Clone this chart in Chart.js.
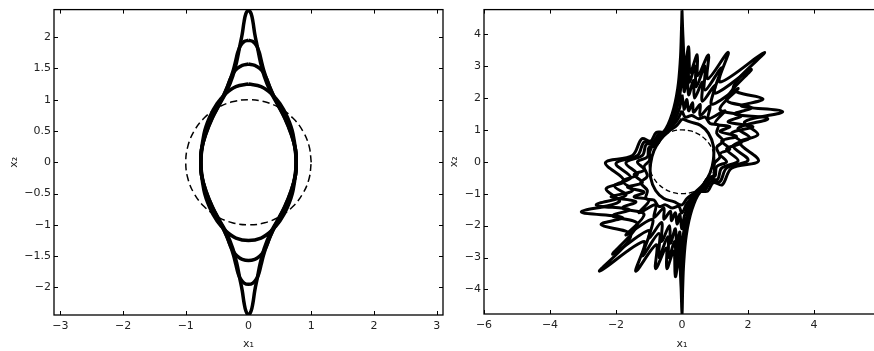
<!DOCTYPE html>
<html lang="en">
<head>
    <meta charset="UTF-8">
    <title>Level sets x1 / x2</title>
    <script src="https://cdn.jsdelivr.net/npm/chart.js"></script>
    <style>
        * {
            margin: 0;
            padding: 0;
            box-sizing: border-box;
        }
        body {
            background: #fff;
            width: 874px;
            height: 351px;
            overflow: hidden;
            position: relative;
        }
        canvas {
            position: absolute;
            top: 0;
        }
        #leftChart { left: 0; }
        #rightChart { left: 440px; }
    </style>
</head>
<body>
    <canvas id="leftChart" width="450" height="351"></canvas>
    <canvas id="rightChart" width="450" height="351"></canvas>
    <script>
        // tick labels
        const leftXTicks = [-3, -2, -1, 0, 1, 2, 3];
        const leftYTicks = [-2, -1.5, -1, -0.5, 0, 0.5, 1, 1.5, 2];
        const rightXTicks = [-6, -4, -2, 0, 2, 4];
        const rightYTicks = [-4, -3, -2, -1, 0, 1, 2, 3, 4];

        // unit circle (dashed), both panels
        const unitCircle = [
            [1, 0], [0.966, 0.259], [0.866, 0.5], [0.707, 0.707], [0.5, 0.866], [0.259, 0.966],
            [0, 1], [-0.259, 0.966], [-0.5, 0.866], [-0.707, 0.707], [-0.866, 0.5], [-0.966, 0.259],
            [-1, 0], [-0.966, -0.259], [-0.866, -0.5], [-0.707, -0.707], [-0.5, -0.866], [-0.259, -0.966],
            [0, -1], [0.259, -0.966], [0.5, -0.866], [0.707, -0.707], [0.866, -0.5], [0.966, -0.259], [1, 0]
        ];

        // left panel, four solid curves (peaks 1.25, 1.57, 1.95, 2.44)
        const leftCurve1 = [
            [0, 1.25], [0.2, 1.21], [0.36, 1.1], [0.5, 0.94], [0.62, 0.72], [0.71, 0.45], [0.76, 0],
            [0.71, -0.45], [0.62, -0.72], [0.5, -0.94], [0.36, -1.1], [0.2, -1.21], [0, -1.25],
            [-0.2, -1.21], [-0.36, -1.1], [-0.5, -0.94], [-0.62, -0.72], [-0.71, -0.45], [-0.76, 0],
            [-0.71, 0.45], [-0.62, 0.72], [-0.5, 0.94], [-0.36, 1.1], [-0.2, 1.21], [0, 1.25]
        ];
        const leftCurve2 = [
            [0, 1.57], [0.1, 1.55], [0.18, 1.5], [0.24, 1.43], [0.29, 1.33], [0.34, 1.2], [0.44, 0.98],
            [0.57, 0.73], [0.68, 0.46], [0.75, 0.2], [0.76, 0], [0.75, -0.2], [0.68, -0.46], [0.57, -0.73],
            [0.44, -0.98], [0.34, -1.2], [0.29, -1.33], [0.24, -1.43], [0.18, -1.5], [0.1, -1.55], [0, -1.57],
            [-0.1, -1.55], [-0.18, -1.5], [-0.24, -1.43], [-0.29, -1.33], [-0.34, -1.2], [-0.44, -0.98],
            [-0.57, -0.73], [-0.68, -0.46], [-0.75, -0.2], [-0.76, 0], [-0.75, 0.2], [-0.68, 0.46],
            [-0.57, 0.73], [-0.44, 0.98], [-0.34, 1.2], [-0.29, 1.33], [-0.24, 1.43], [-0.18, 1.5],
            [-0.1, 1.55], [0, 1.57]
        ];
        const leftCurve3 = [
            [0, 1.95], [0.07, 1.93], [0.13, 1.86], [0.17, 1.76], [0.2, 1.64], [0.24, 1.48], [0.3, 1.3],
            [0.38, 1.1], [0.5, 0.88], [0.62, 0.64], [0.71, 0.38], [0.76, 0], [0.71, -0.38], [0.62, -0.64],
            [0.5, -0.88], [0.38, -1.1], [0.3, -1.3], [0.24, -1.48], [0.2, -1.64], [0.17, -1.76],
            [0.13, -1.86], [0.07, -1.93], [0, -1.95], [-0.07, -1.93], [-0.13, -1.86], [-0.17, -1.76],
            [-0.2, -1.64], [-0.24, -1.48], [-0.3, -1.3], [-0.38, -1.1], [-0.5, -0.88], [-0.62, -0.64],
            [-0.71, -0.38], [-0.76, 0], [-0.71, 0.38], [-0.62, 0.64], [-0.5, 0.88], [-0.38, 1.1],
            [-0.3, 1.3], [-0.24, 1.48], [-0.2, 1.64], [-0.17, 1.76], [-0.13, 1.86], [-0.07, 1.93], [0, 1.95]
        ];
        const leftCurve4 = [
            [0, 2.44], [0.04, 2.38], [0.07, 2.25], [0.1, 2.05], [0.14, 1.85], [0.19, 1.6], [0.25, 1.38],
            [0.34, 1.15], [0.46, 0.93], [0.58, 0.7], [0.68, 0.45], [0.75, 0.2], [0.76, 0], [0.75, -0.2],
            [0.68, -0.45], [0.58, -0.7], [0.46, -0.93], [0.34, -1.15], [0.25, -1.38], [0.19, -1.6],
            [0.14, -1.85], [0.1, -2.05], [0.07, -2.25], [0.04, -2.38], [0, -2.44], [-0.04, -2.38],
            [-0.07, -2.25], [-0.1, -2.05], [-0.14, -1.85], [-0.19, -1.6], [-0.25, -1.38], [-0.34, -1.15],
            [-0.46, -0.93], [-0.58, -0.7], [-0.68, -0.45], [-0.75, -0.2], [-0.76, 0], [-0.75, 0.2],
            [-0.68, 0.45], [-0.58, 0.7], [-0.46, 0.93], [-0.34, 1.15], [-0.25, 1.38], [-0.19, 1.6],
            [-0.14, 1.85], [-0.1, 2.05], [-0.07, 2.25], [-0.04, 2.38], [0, 2.44]
        ];

        // right panel, six solid curves from inner to outer
        const rightCurve1 = [
            [0, 1.35], [0.25, 1.25], [0.55, 1.15], [0.8, 0.9], [0.95, 0.5], [0.95, 0.05], [0.85, -0.35],
            [0.65, -0.7], [0.4, -0.95], [0.15, -1.15], [0, -1.35], [-0.25, -1.25], [-0.55, -1.15],
            [-0.8, -0.9], [-0.95, -0.5], [-0.95, -0.05], [-0.85, 0.35], [-0.65, 0.7], [-0.4, 0.95],
            [-0.15, 1.15], [0, 1.35]
        ];
        const rightCurve2 = [
            [0, 1.6], [0.1, 1.4], [0.3, 1.45], [0.5, 1.35], [0.7, 1.4], [0.85, 1.2], [1.1, 1.15],
            [1.05, 0.9], [1.25, 0.65], [1.05, 0.45], [1.15, 0.15], [0.98, -0.05], [0.98, -0.4],
            [0.75, -0.55], [0.6, -0.82], [0.4, -1.0], [0.15, -1.3], [0, -1.6],
            [-0.1, -1.4], [-0.3, -1.45], [-0.5, -1.35], [-0.7, -1.4], [-0.85, -1.2], [-1.1, -1.15],
            [-1.05, -0.9], [-1.25, -0.65], [-1.05, -0.45], [-1.15, -0.15], [-0.98, 0.05], [-0.98, 0.4],
            [-0.75, 0.55], [-0.6, 0.82], [-0.4, 1.0], [-0.15, 1.3], [0, 1.6]
        ];
        const rightCurve3 = [
            [0, 2.1], [0.05, 1.75], [0.07, 1.65], [0.15, 1.95], [0.2, 1.6], [0.32, 1.85], [0.35, 1.55],
            [0.55, 1.8], [0.55, 1.45], [0.85, 1.75], [0.8, 1.35], [1.3, 1.6], [1.0, 1.2], [1.45, 1.1],
            [1.15, 0.95], [1.65, 0.8], [1.2, 0.65], [1.45, 0.4], [1.15, 0.25], [1.35, 0.0], [1.05, -0.15],
            [1.0, -0.45], [0.8, -0.5], [0.6, -0.8], [0.4, -1.0], [0.2, -1.35], [0.07, -1.7], [0, -2.1],
            [-0.05, -1.75], [-0.07, -1.65], [-0.15, -1.95], [-0.2, -1.6], [-0.32, -1.85], [-0.35, -1.55],
            [-0.55, -1.8], [-0.55, -1.45], [-0.85, -1.75], [-0.8, -1.35], [-1.3, -1.6], [-1.0, -1.2],
            [-1.45, -1.1], [-1.15, -0.95], [-1.65, -0.8], [-1.2, -0.65], [-1.45, -0.4], [-1.15, -0.25],
            [-1.35, 0.0], [-1.05, 0.15], [-1.0, 0.45], [-0.8, 0.5], [-0.6, 0.8], [-0.4, 1.0],
            [-0.2, 1.35], [-0.07, 1.7], [0, 2.1]
        ];
        const rightCurve4 = [
            [0, 2.9], [0.05, 2.4], [0.07, 2.2], [0.16, 2.7], [0.2, 2.1], [0.35, 2.55], [0.38, 2.0],
            [0.62, 2.5], [0.62, 1.9], [1.0, 2.4], [0.9, 1.8], [1.7, 2.3], [1.15, 1.65], [1.8, 1.45],
            [1.4, 1.25], [2.15, 1.1], [1.5, 0.9], [1.8, 0.6], [1.35, 0.4], [1.7, 0.03], [1.2, -0.2],
            [1.08, -0.55], [0.85, -0.55], [0.65, -0.85], [0.45, -0.98], [0.24, -1.4], [0.1, -1.9],
            [0.03, -2.4], [0, -2.9],
            [-0.05, -2.4], [-0.07, -2.2], [-0.16, -2.7], [-0.2, -2.1], [-0.35, -2.55], [-0.38, -2.0],
            [-0.62, -2.5], [-0.62, -1.9], [-1.0, -2.4], [-0.9, -1.8], [-1.7, -2.3], [-1.15, -1.65],
            [-1.8, -1.45], [-1.4, -1.25], [-2.15, -1.1], [-1.5, -0.9], [-1.8, -0.6], [-1.35, -0.4],
            [-1.7, -0.03], [-1.2, 0.2], [-1.08, 0.55], [-0.85, 0.55], [-0.65, 0.85], [-0.45, 0.98],
            [-0.24, 1.4], [-0.1, 1.9], [-0.03, 2.4], [0, 2.9]
        ];
        const rightCurve5 = [
            [0, 3.7], [0.04, 3.0], [0.08, 2.6], [0.18, 3.25], [0.22, 2.5], [0.4, 3.0], [0.43, 2.35],
            [0.7, 3.0], [0.7, 2.25], [1.2, 2.95], [1.0, 2.15], [2.1, 2.9], [1.35, 1.95], [2.1, 1.7],
            [1.6, 1.5], [2.6, 1.35], [1.7, 1.05], [2.05, 0.75], [1.55, 0.5], [2.0, 0.05], [1.35, -0.2],
            [1.15, -0.62], [0.9, -0.6], [0.7, -0.88], [0.5, -0.95], [0.27, -1.45], [0.12, -2.1],
            [0.04, -2.9], [0, -3.7],
            [-0.04, -3.0], [-0.08, -2.6], [-0.18, -3.25], [-0.22, -2.5], [-0.4, -3.0], [-0.43, -2.35],
            [-0.7, -3.0], [-0.7, -2.25], [-1.2, -2.95], [-1.0, -2.15], [-2.1, -2.9], [-1.35, -1.95],
            [-2.1, -1.7], [-1.6, -1.5], [-2.6, -1.35], [-1.7, -1.05], [-2.05, -0.75], [-1.55, -0.5],
            [-2.0, -0.05], [-1.35, 0.2], [-1.15, 0.62], [-0.9, 0.6], [-0.7, 0.88], [-0.5, 0.95],
            [-0.27, 1.45], [-0.12, 2.1], [-0.04, 2.9], [0, 3.7]
        ];
        const rightCurve6 = [
            [0, 4.75], [0.03, 3.9], [0.09, 3.0], [0.2, 3.6], [0.25, 2.8], [0.46, 3.35], [0.48, 2.7],
            [0.8, 3.35], [0.78, 2.6], [1.4, 3.43], [1.15, 2.5], [2.5, 3.43], [1.55, 2.3], [2.45, 1.97],
            [1.8, 1.75], [3.05, 1.57], [1.9, 1.25], [2.3, 0.85], [1.75, 0.6], [2.32, 0.03], [1.5, -0.2],
            [1.22, -0.72], [0.95, -0.65], [0.78, -0.92], [0.55, -0.95], [0.3, -1.5], [0.13, -2.3],
            [0.05, -3.2], [0.02, -4.0], [0, -4.75],
            [-0.03, -3.9], [-0.09, -3.0], [-0.2, -3.6], [-0.25, -2.8], [-0.46, -3.35], [-0.48, -2.7],
            [-0.8, -3.35], [-0.78, -2.6], [-1.4, -3.43], [-1.15, -2.5], [-2.5, -3.43], [-1.55, -2.3],
            [-2.45, -1.97], [-1.8, -1.75], [-3.05, -1.57], [-1.9, -1.25], [-2.3, -0.85], [-1.75, -0.6],
            [-2.32, -0.03], [-1.5, 0.2], [-1.22, 0.72], [-0.95, 0.65], [-0.78, 0.92], [-0.55, 0.95],
            [-0.3, 1.5], [-0.13, 2.3], [-0.05, 3.2], [-0.02, 4.0], [0, 4.75]
        ];

        const tickFont = { family: 'DejaVu Sans', size: 11 };
        const minus = v => String(v).replace('-', '\u2212');

        // inward ticks on all four sides plus the black frame
        const framePlugin = {
            id: 'frame',
            afterDraw(chart) {
                const { ctx, chartArea: a, scales: { x, y } } = chart;
                ctx.save();
                ctx.strokeStyle = '#000';
                ctx.lineWidth = 1;
                ctx.beginPath();
                x.ticks.forEach(t => {
                    const px = Math.round(x.getPixelForValue(t.value)) + 0.5;
                    ctx.moveTo(px, a.bottom); ctx.lineTo(px, a.bottom - 4);
                    ctx.moveTo(px, a.top); ctx.lineTo(px, a.top + 4);
                });
                y.ticks.forEach(t => {
                    const py = Math.round(y.getPixelForValue(t.value)) + 0.5;
                    ctx.moveTo(a.left, py); ctx.lineTo(a.left + 4, py);
                    ctx.moveTo(a.right, py); ctx.lineTo(a.right - 4, py);
                });
                ctx.stroke();
                ctx.lineWidth = 1.3;
                ctx.strokeRect(a.left, a.top, a.right - a.left, a.bottom - a.top);
                ctx.restore();
            }
        };

        function toXY(pts) {
            return pts.map(p => ({ x: p[0], y: p[1] }));
        }

        function curve(pts, width, dash, tension) {
            return {
                data: toXY(pts),
                borderColor: '#000',
                borderWidth: width,
                borderDash: dash,
                showLine: true,
                pointRadius: 0,
                tension: tension
            };
        }

        function makeScales(xr, yr, xt, yt, yWidth, xHeight) {
            return {
                x: {
                    type: 'linear',
                    min: xr[0],
                    max: xr[1],
                    afterBuildTicks: s => { s.ticks = xt.map(v => ({ value: v })); },
                    afterFit: s => { s.height = xHeight; },
                    grid: { display: false, drawTicks: false },
                    border: { display: false },
                    ticks: { font: tickFont, color: '#222', padding: 5, maxRotation: 0, autoSkip: false, callback: minus },
                    title: { display: true, text: 'x\u2081', font: tickFont, color: '#222', padding: { top: 4, bottom: 0 } }
                },
                y: {
                    type: 'linear',
                    min: yr[0],
                    max: yr[1],
                    afterBuildTicks: s => { s.ticks = yt.map(v => ({ value: v })); },
                    afterFit: s => { s.width = yWidth; },
                    grid: { display: false, drawTicks: false },
                    border: { display: false },
                    ticks: { font: tickFont, color: '#222', padding: 3, autoSkip: false, callback: minus },
                    title: { display: true, text: 'x\u2082', font: tickFont, color: '#222', padding: { top: 8, bottom: 0 } }
                }
            };
        }

        new Chart(document.getElementById('leftChart'), {
            type: 'scatter',
            data: {
                datasets: [
                    curve(unitCircle, 1.5, [7, 4], 0.4),
                    curve(leftCurve1, 3.5, [], 0.4),
                    curve(leftCurve2, 3.5, [], 0.4),
                    curve(leftCurve3, 3.5, [], 0.4),
                    curve(leftCurve4, 3.5, [], 0.4)
                ]
            },
            options: {
                responsive: false,
                animation: false,
                layout: { padding: { left: 0, top: 9, right: 7, bottom: 0 } },
                plugins: { legend: { display: false }, tooltip: { enabled: false } },
                scales: makeScales([-3.1, 3.1], [-2.44, 2.44], leftXTicks, leftYTicks, 54, 36)
            },
            plugins: [framePlugin]
        });

        new Chart(document.getElementById('rightChart'), {
            type: 'scatter',
            data: {
                datasets: [
                    curve(unitCircle, 1.3, [5, 3], 0.4),
                    curve(rightCurve1, 3, [], 0.35),
                    curve(rightCurve2, 3, [], 0.35),
                    curve(rightCurve3, 3, [], 0.35),
                    curve(rightCurve4, 3, [], 0.35),
                    curve(rightCurve5, 3, [], 0.35),
                    curve(rightCurve6, 3, [], 0.35)
                ]
            },
            options: {
                responsive: false,
                animation: false,
                layout: { padding: { left: 0, top: 3, right: 10, bottom: 0 } },
                plugins: { legend: { display: false }, tooltip: { enabled: false } },
                scales: makeScales([-6, 6], [-4.77, 4.77], rightXTicks, rightYTicks, 44, 37)
            },
            plugins: [framePlugin]
        });
    </script>
</body>
</html>
